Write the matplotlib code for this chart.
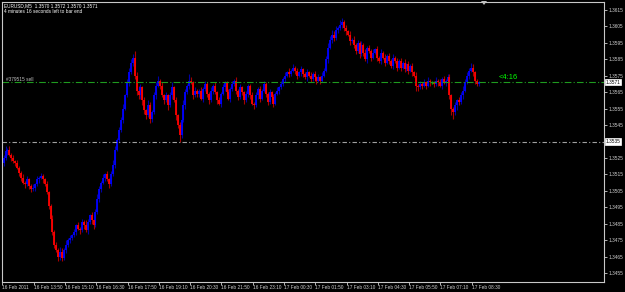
import matplotlib
matplotlib.use("Agg")
import matplotlib.pyplot as plt
import numpy as np

# EURUSD M5, closes (one value per bar)
first_open = 1.3522
close = [
    1.3525, 1.3529, 1.3530, 1.3527, 1.3525, 1.3523, 1.3522, 1.3519, 1.3516, 1.3513,
    1.3510, 1.3509, 1.3512, 1.3508, 1.3506, 1.3507, 1.3509, 1.3512, 1.3513, 1.3514,
    1.3512, 1.3509, 1.3504, 1.3496, 1.3488, 1.3480, 1.3472, 1.3469, 1.3465, 1.3468,
    1.3464, 1.3469, 1.3472, 1.3475, 1.3476, 1.3478, 1.3480, 1.3484, 1.3482, 1.3481,
    1.3486, 1.3484, 1.3481, 1.3486, 1.3490, 1.3487, 1.3484, 1.3492, 1.3500, 1.3506,
    1.3510, 1.3513, 1.3515, 1.3512, 1.3509, 1.3515, 1.3521, 1.3530, 1.3536, 1.3542,
    1.3548, 1.3555, 1.3563, 1.3571, 1.3577, 1.3583, 1.3586, 1.3575, 1.3566, 1.3563,
    1.3568, 1.3560, 1.3554, 1.3551, 1.3557, 1.3549, 1.3553, 1.3563, 1.3569, 1.3572,
    1.3569, 1.3563, 1.3560, 1.3563, 1.3557, 1.3563, 1.3568, 1.3560, 1.3551, 1.3545,
    1.3539, 1.3548, 1.3557, 1.3565, 1.3569, 1.3572, 1.3571, 1.3563, 1.3566, 1.3564,
    1.3566, 1.3561, 1.3567, 1.3570, 1.3564, 1.3560, 1.3566, 1.3569, 1.3565, 1.3560,
    1.3558, 1.3564, 1.3568, 1.3571, 1.3565, 1.3561, 1.3567, 1.3570, 1.3572, 1.3566,
    1.3562, 1.3568, 1.3565, 1.3560, 1.3564, 1.3569, 1.3563, 1.3558, 1.3557, 1.3563,
    1.3567, 1.3561, 1.3566, 1.3570, 1.3564, 1.3559, 1.3565, 1.3562, 1.3558, 1.3564,
    1.3566, 1.3568, 1.3570, 1.3573, 1.3575, 1.3577, 1.3576, 1.3578, 1.3580, 1.3578,
    1.3575, 1.3577, 1.3579, 1.3576, 1.3574, 1.3577, 1.3575, 1.3573, 1.3576, 1.3574,
    1.3572, 1.3574, 1.3572, 1.3575, 1.3578, 1.3585, 1.3592, 1.3597, 1.3600, 1.3598,
    1.3603, 1.3604, 1.3606, 1.3608, 1.3604, 1.3602, 1.3600, 1.3596, 1.3597, 1.3594,
    1.3590, 1.3595, 1.3588, 1.3594, 1.3589, 1.3585, 1.3592, 1.3590, 1.3586, 1.3589,
    1.3591, 1.3586, 1.3584, 1.3589, 1.3586, 1.3583, 1.3587, 1.3584, 1.3581, 1.3586,
    1.3584, 1.3580, 1.3584, 1.3580, 1.3583, 1.3579, 1.3582, 1.3578, 1.3581, 1.3577,
    1.3575, 1.3569, 1.3568, 1.3570, 1.3569, 1.3571, 1.3569, 1.3572, 1.3571, 1.3571,
    1.3570, 1.3572, 1.3571, 1.3569, 1.3573, 1.3571, 1.3572, 1.3574, 1.3563, 1.3555,
    1.3553, 1.3557, 1.3560, 1.3559, 1.3563, 1.3566, 1.3571, 1.3575, 1.3578, 1.3580,
    1.3577, 1.3572, 1.3570, 1.3571,
]
# wick lengths in pips above / below the body
wick_up = [
    2, 3, 1, 2, 1, 2, 1, 2, 1, 1,  2, 1, 2, 1, 1, 2, 1, 2, 1, 2,
    1, 1, 2, 1, 1, 2, 1, 2, 1, 3,  2, 1, 3, 1, 2, 1, 2, 1, 2, 1,
    2, 1, 3, 2, 1, 2, 1, 2, 3, 2,  1, 2, 1, 2, 1, 2, 3, 2, 1, 2,
    2, 3, 1, 2, 3, 2, 2, 4, 2, 3,  2, 1, 2, 1, 3, 2, 1, 2, 2, 3,
    1, 2, 1, 2, 1, 2, 3, 1, 2, 1,  2, 1, 3, 2, 1, 4, 2, 1, 2, 1,
    1, 2, 1, 2, 1, 1, 2, 1, 2, 1,  2, 1, 2, 1, 1, 2, 1, 2, 1, 2,
    1, 2, 1, 1, 2, 1, 1, 2, 1, 2,  1, 2, 1, 2, 1, 1, 2, 1, 2, 1,
    2, 1, 2, 1, 2, 1, 3, 1, 2, 1,  2, 1, 2, 1, 1, 2, 1, 2, 1, 2,
    1, 2, 1, 2, 2, 2, 3, 2, 3, 2,  2, 1, 3, 2, 1, 2, 1, 2, 1, 2,
    1, 2, 1, 2, 1, 2, 1, 2, 1, 2,  1, 2, 1, 2, 1, 2, 1, 2, 1, 2,
    1, 2, 1, 2, 1, 2, 1, 2, 1, 2,  1, 2, 1, 2, 1, 2, 1, 2, 1, 1,
    1, 2, 1, 2, 1, 2, 1, 2, 2, 1,  1, 2, 1, 2, 2, 3, 2, 2, 2, 3,
    2, 1, 1, 1,
]
wick_dn = [
    2, 1, 2, 1, 2, 1, 2, 1, 2, 2,  1, 2, 1, 2, 2, 1, 2, 1, 2, 1,
    2, 1, 1, 2, 1, 2, 2, 1, 3, 2,  2, 1, 2, 1, 2, 1, 1, 2, 1, 2,
    1, 2, 1, 2, 1, 2, 2, 1, 1, 2,  2, 1, 2, 1, 2, 1, 1, 2, 1, 1,
    1, 2, 1, 1, 2, 1, 2, 2, 3, 2,  2, 3, 2, 2, 1, 3, 2, 1, 2, 1,
    2, 1, 2, 1, 3, 1, 2, 1, 3, 2,  4, 2, 1, 2, 1, 2, 1, 2, 1, 2,
    2, 1, 2, 1, 2, 2, 1, 2, 1, 2,  1, 2, 1, 2, 2, 1, 2, 1, 1, 2,
    2, 1, 2, 2, 1, 2, 2, 1, 2, 1,  2, 2, 1, 1, 2, 2, 1, 2, 2, 1,
    1, 2, 1, 1, 2, 1, 2, 1, 1, 2,  2, 1, 2, 2, 1, 2, 1, 2, 1, 2,
    2, 1, 2, 1, 1, 1, 2, 1, 2, 2,  1, 2, 1, 2, 2, 2, 1, 2, 1, 2,
    2, 1, 2, 1, 2, 1, 2, 1, 2, 1,  1, 2, 1, 2, 1, 2, 1, 2, 1, 2,
    1, 2, 1, 2, 1, 2, 1, 2, 1, 2,  1, 3, 2, 1, 2, 1, 2, 1, 2, 1,
    2, 1, 2, 1, 2, 1, 2, 1, 2, 4,  4, 2, 3, 2, 1, 2, 1, 1, 2, 1,
    2, 2, 1, 1,
]

time_labels = ["16 Feb 2011", "16 Feb 13:50", "16 Feb 15:10", "16 Feb 16:30",
               "16 Feb 17:50", "16 Feb 19:10", "16 Feb 20:30", "16 Feb 21:50",
               "16 Feb 23:10", "17 Feb 00:30", "17 Feb 01:50", "17 Feb 03:10",
               "17 Feb 04:30", "17 Feb 05:50", "17 Feb 07:10", "17 Feb 08:30"]
price_ticks = [1.3615, 1.3605, 1.3595, 1.3585, 1.3575, 1.3565, 1.3555, 1.3545,
               1.3525, 1.3515, 1.3505, 1.3495, 1.3485, 1.3475, 1.3465, 1.3455]
bid = 1.3571
order_price = 1.3571
stop_price = 1.3535

close = np.array(close)
opn = np.r_[first_open, close[:-1]]
pip = 0.0001
high = np.maximum(opn, close) + np.array(wick_up) * pip
low = np.minimum(opn, close) - np.array(wick_dn) * pip
x = np.arange(len(close))

plt.rcParams["font.family"] = ["Liberation Sans", "DejaVu Sans"]
small = 3.4

W, H = 625, 292
fig = plt.figure(figsize=(W / 100, H / 100), dpi=100, facecolor="black")
ax = fig.add_axes([2 / W, 10 / H, 602 / W, 280 / H], facecolor="black")
ax.set_xlim(-0.8, 307)
ax.set_ylim(1.34495, 1.36199)

up = close > opn
dn = close < opn
doji = close == opn
ax.vlines(x[up], low[up], high[up], color="#0000a8", lw=0.8)
ax.vlines(x[dn], low[dn], high[dn], color="#a80000", lw=0.8)
ax.vlines(x[up], opn[up], close[up], color="#0000ff", lw=1.3)
ax.vlines(x[dn], close[dn], opn[dn], color="#ff0000", lw=1.3)
ax.vlines(x[doji], low[doji], high[doji], color="#00c000", lw=1.0)

# order line and stop line
ax.axhline(order_price, color="#1f9a1f", lw=0.8, ls=(0, (6, 2, 1, 2)))
ax.axhline(stop_price, color="#a0a0a0", lw=0.8, ls=(0, (4, 2, 1, 2)))
ax.text(1, order_price + 0.00005, "#379515 sell", color="#c0c0c0", fontsize=small,
        va="bottom", ha="left")
ax.text(253, bid + 0.00008, "<4:16", color="#00ff00", fontsize=5.5,
        va="bottom", ha="left")

for s in ax.spines.values():
    s.set_color("#c8c8c8")
    s.set_linewidth(0.8)

ax.yaxis.tick_right()
ax.set_yticks(price_ticks)
ax.set_yticklabels([f"{p:.4f}" for p in price_ticks])
ax.tick_params(axis="y", colors="#d0d0d0", labelsize=small, length=2, width=0.6, pad=1)
ax.set_xticks(np.arange(len(time_labels)) * 16 - 0.6)
ax.set_xticklabels(time_labels)
ax.tick_params(axis="x", colors="#d0d0d0", labelsize=small, length=2, width=0.6, pad=0.5)
for lab in ax.get_xticklabels():
    lab.set_horizontalalignment("left")

# price boxes on the right scale
for p in (bid, stop_price):
    ax.text(1.0025, p, f"{p:.4f}", transform=ax.get_yaxis_transform(),
            fontsize=small, color="black", va="center", ha="left",
            bbox=dict(boxstyle="square,pad=0.12", fc="white", ec="white", lw=0.5))

fig.text(4 / W, 1 - 3 / H, "EURUSD,M5  1.3570 1.3572 1.3570 1.3571",
         color="white", fontsize=small, va="top", ha="left")
fig.text(4 / W, 1 - 9 / H, "4 minutes 16 seconds left to bar end",
         color="white", fontsize=small, va="top", ha="left")
# chart shift marker
fig.patches.append(plt.Polygon([[481 / W, 1 - 1 / H], [487 / W, 1 - 1 / H],
                                [484 / W, 1 - 5 / H]], closed=True,
                               transform=fig.transFigure, fc="#c0c0c0", ec="none"))

fig.savefig("out.png", dpi=100, facecolor="black")
